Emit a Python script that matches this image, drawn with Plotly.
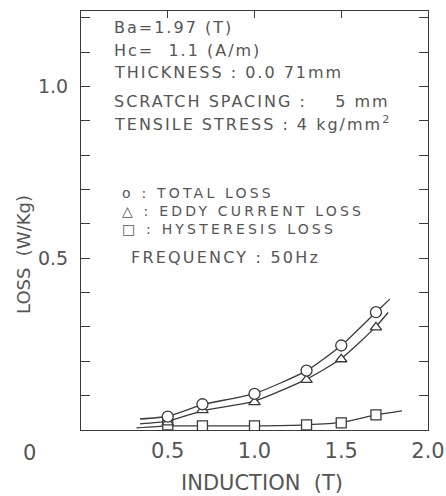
import plotly.graph_objects as go

# Measured points
induction = [0.5, 0.7, 1.0, 1.3, 1.5, 1.7]
total_loss = [0.039, 0.075, 0.105, 0.173, 0.246, 0.343]
eddy_loss = [0.022, 0.058, 0.081, 0.146, 0.206, 0.299]
hyst_loss = [0.015, 0.012, 0.012, 0.015, 0.021, 0.044]

# Drawn curves (incl. their ends)
total_curve_x = [0.34, 0.5, 0.7, 1.0, 1.3, 1.5, 1.7, 1.78]
total_curve_y = [0.032, 0.040, 0.074, 0.106, 0.173, 0.246, 0.343, 0.381]
eddy_curve_x = [0.34, 0.5, 0.7, 1.0, 1.3, 1.5, 1.7, 1.77]
eddy_curve_y = [0.018, 0.026, 0.056, 0.084, 0.148, 0.208, 0.301, 0.342]
hyst_curve_x = [0.32, 0.5, 0.7, 1.0, 1.3, 1.5, 1.7, 1.85]
hyst_curve_y = [0.006, 0.012, 0.012, 0.012, 0.015, 0.022, 0.044, 0.056]

x_tick_vals = [0.5, 1.0, 1.5, 2.0]
x_tick_text = ["0.5", "1.0", "1.5", "2.0"]
y_tick_vals = [0.5, 1.0]
y_tick_text = ["0.5", "1.0"]

info_lines = [
    "Ba=1.97 (T)",
    "Hc=  1.1 (A/m)",
    "THICKNESS : 0.0 71mm",
    "SCRATCH SPACING :    5 mm",
    "TENSILE STRESS : 4 kg/mm<sup>2</sup>",
]
legend_lines = [
    "o : TOTAL LOSS",
    "△ : EDDY CURRENT LOSS",
    "□ : HYSTERESIS LOSS",
]
frequency_text = "FREQUENCY : 50Hz"

INK = "#3a3a3a"
TXT = "#555555"
FONT = "DejaVu Sans"

L, R, T, B = 81, 18, 11, 66
W, H = 446, 496
PW, PH = W - L - R, H - T - B


def px_to_paper(px, py):
    return (px - L) / PW, 1 - (py - T) / PH


def spaced(text, sp):
    return f'<span style="letter-spacing:{sp}px">{text}</span>'


fig = go.Figure()

for cx, cy in [(total_curve_x, total_curve_y), (eddy_curve_x, eddy_curve_y), (hyst_curve_x, hyst_curve_y)]:
    fig.add_trace(go.Scatter(x=cx, y=cy, mode="lines", line=dict(color=INK, width=1.3, shape="spline", smoothing=0.6),
                             hoverinfo="skip", showlegend=False))

for ys, sym, sz in [(hyst_loss, "square", 10), (eddy_loss, "triangle-up", 10), (total_loss, "circle", 11)]:
    fig.add_trace(go.Scatter(x=induction, y=ys, mode="markers",
                             marker=dict(symbol=sym, size=sz, color="white", line=dict(color=INK, width=1.3)),
                             showlegend=False))

# invisible trace carrying the top axis
fig.add_trace(go.Scatter(x=[0, 2], y=[0, 0], xaxis="x2", mode="markers", marker=dict(opacity=0),
                         hoverinfo="skip", showlegend=False))

fig.update_layout(
    width=W, height=H,
    margin=dict(l=L, r=R, t=T, b=B),
    paper_bgcolor="white", plot_bgcolor="white",
    font=dict(family=FONT, color=TXT, size=16),
    xaxis=dict(range=[0, 2.0], showgrid=False, zeroline=False, showline=True, linecolor=INK, linewidth=1.2,
               mirror=True, ticks="", tickvals=x_tick_vals, ticktext=x_tick_text, automargin=False,
               tickfont=dict(size=21, color=TXT), ticklabelstandoff=2),
    xaxis2=dict(overlaying="x", side="top", range=[0, 2.0], showgrid=False, zeroline=False, automargin=False,
                showline=False, ticks="inside", ticklen=7, tickwidth=1.2, tickcolor=INK,
                tickvals=[0.5, 1.0, 1.5], showticklabels=False),
    yaxis=dict(range=[0, 1.22], showgrid=False, zeroline=False, showline=True, linecolor=INK, linewidth=1.2,
               mirror="allticks", ticks="inside", ticklen=9, tickcolor=INK, automargin=False,
               tickvals=y_tick_vals, ticktext=y_tick_text, tickfont=dict(size=19, color=TXT),
               ticklabelstandoff=8,
               minor=dict(dtick=0.1, ticks="inside", ticklen=5, tickcolor=INK)),
)

# axis titles and origin label
fx, fy = px_to_paper(262, 483)
fig.add_annotation(xref="paper", yref="paper", x=fx, y=fy, text="INDUCTION  (T)",
                   showarrow=False, xanchor="center", yanchor="middle", font=dict(size=21, color=TXT))
fx, fy = px_to_paper(23, 255)
fig.add_annotation(xref="paper", yref="paper", x=fx, y=fy, text="LOSS  (W/Kg)", textangle=-90,
                   showarrow=False, xanchor="center", yanchor="middle", font=dict(size=18, color=TXT))
fx, fy = px_to_paper(29, 453)
fig.add_annotation(xref="paper", yref="paper", x=fx, y=fy, text="0", showarrow=False,
                   xanchor="center", yanchor="middle", font=dict(size=21, color=TXT))

info_y = [28, 50, 72, 102, 123]
for t, yy in zip(info_lines, info_y):
    fx, fy = px_to_paper(112, yy)
    fig.add_annotation(xref="paper", yref="paper", x=fx, y=fy, text=spaced(t, 2),
                       showarrow=False, xanchor="left", yanchor="middle", font=dict(size=16, color=TXT))

# symbol key as one block of lines
fx, fy = px_to_paper(120, 211)
fig.add_annotation(xref="paper", yref="paper", x=fx, y=fy,
                   text="<br>".join(spaced(t, 3.2) for t in legend_lines),
                   showarrow=False, xanchor="left", yanchor="middle", align="left",
                   font=dict(size=14, color=TXT))
fx, fy = px_to_paper(129, 257)
fig.add_annotation(xref="paper", yref="paper", x=fx, y=fy, text=spaced(frequency_text, 2.2),
                   showarrow=False, xanchor="left", yanchor="middle", font=dict(size=16, color=TXT))

fig.write_html("out.html")
